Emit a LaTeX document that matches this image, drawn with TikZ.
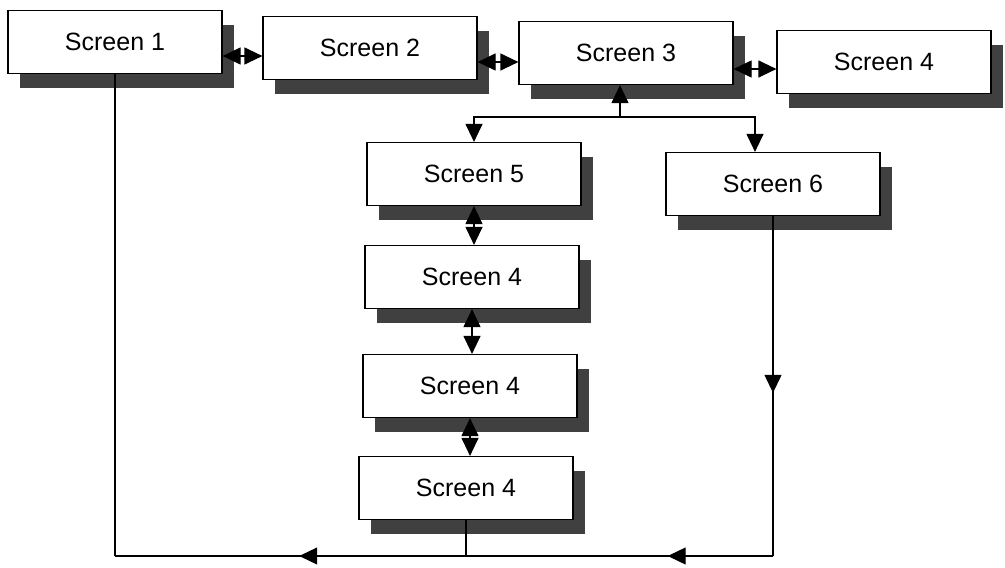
\documentclass[tikz,border=0pt]{standalone}
\usepackage{fontspec}
\setmainfont{Liberation Sans}
\usetikzlibrary{arrows.meta,shadows,decorations.markings}
\begin{document}
\begin{tikzpicture}[x=1pt,y=-1pt,line width=1.2pt,>={Triangle[length=18pt,width=17pt]},
  screen/.style={draw,fill=white,minimum width=214pt,minimum height=63pt,font=\fontsize{25}{30}\selectfont,
    drop shadow={shadow xshift=12pt,shadow yshift=-14pt,fill=black!75,opacity=1}},
  dbl/.style={<->},
  arrowat/.style={postaction={decorate},decoration={markings,mark=at position #1 with {\arrow{>}}}}]
\useasboundingbox (0,0) rectangle (1005,568);
% top row
\node[screen] (s1) at (115,42) {Screen 1};
\node[screen] (s2) at (370,48) {Screen 2};
\node[screen] (s3) at (626,53) {Screen 3};
\node[screen] (s4) at (884,62) {Screen 4};
% branches
\node[screen] (s5) at (474,174) {Screen 5};
\node[screen] (s6) at (773,184) {Screen 6};
\node[screen] (s42) at (472,277) {Screen 4};
\node[screen] (s43) at (470,386) {Screen 4};
\node[screen] (s44) at (466,488) {Screen 4};
\draw[dbl] ([yshift=-14pt]s1.east) -- ([yshift=-14pt]s1.east -| s2.west);
\draw[dbl] ([yshift=-14pt]s2.east) -- ([yshift=-14pt]s2.east -| s3.west);
\draw[dbl] ([yshift=-16pt]s3.east) -- ([yshift=-16pt]s3.east -| s4.west);
\coordinate (split) at (620,117);
\draw[->] (split) -- (split |- s3.south);
\draw[->] (split) -| (s5.north);
\draw[->] (split) -| ([xshift=-18pt]s6.north);
\draw[dbl] (s5.south) -- (s5.south |- s42.north);
\draw[dbl] (s42.south) -- (s42.south |- s43.north);
\draw[dbl] (s43.south) -- (s43.south |- s44.north);
% return path
\coordinate (base) at (0,556);
\draw[arrowat=0.52] (s6.south) -- (s6.south |- base);
\draw[postaction={decorate},decoration={markings,mark=at position 0.16 with {\arrow{>}},mark=at position 0.72 with {\arrow{>}}}]
  (s6.south |- base) -- (s1.south |- base);
\draw (s1.south) -- (s1.south |- base);
\draw (s44.south) -- (s44.south |- base);
\end{tikzpicture}
\end{document}
